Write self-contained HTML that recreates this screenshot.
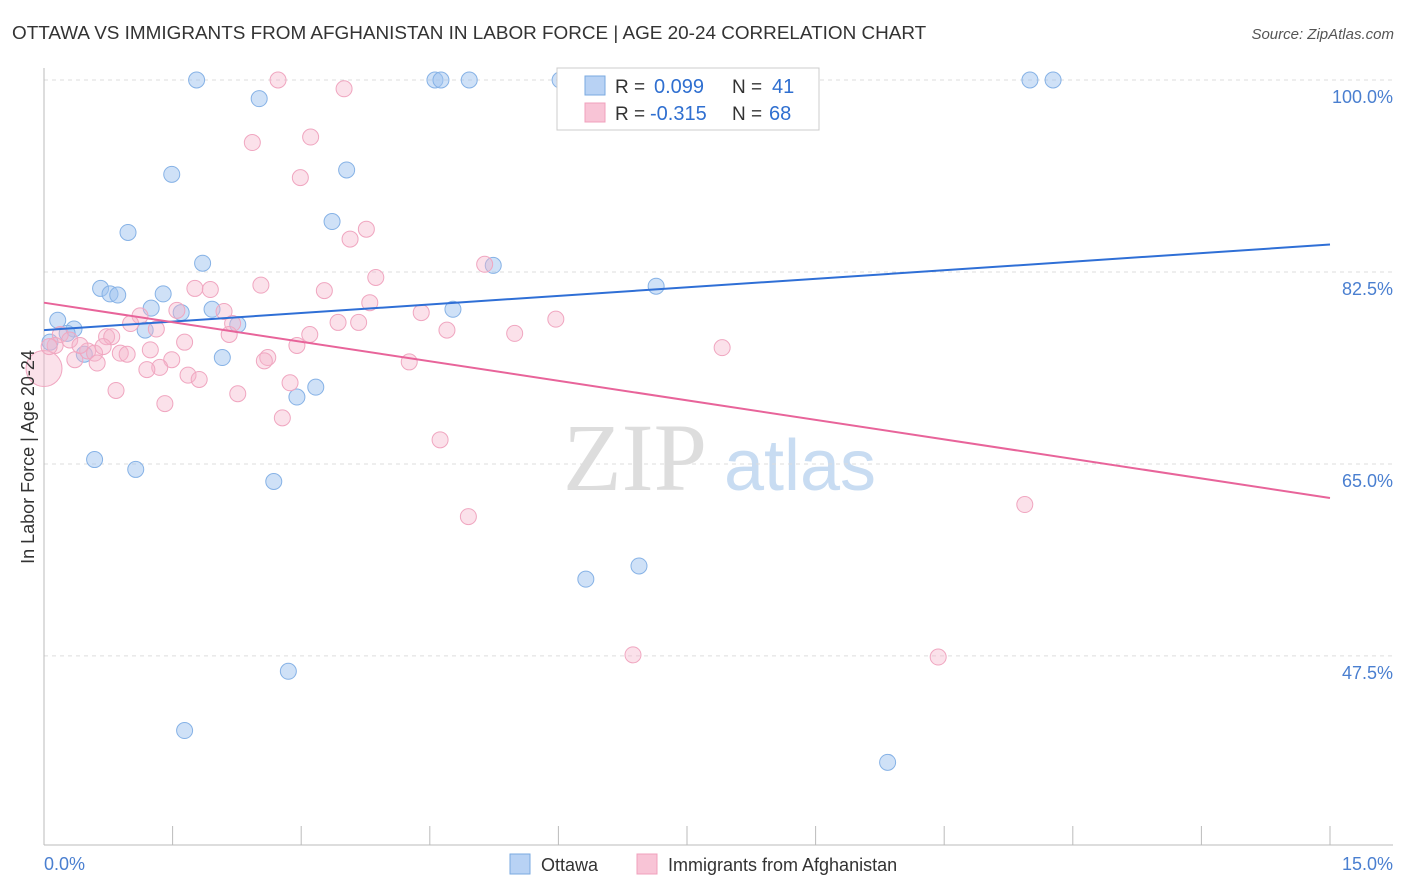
<!DOCTYPE html>
<html><head><meta charset="utf-8">
<style>
body{margin:0;background:#fff;font-family:"Liberation Sans",sans-serif;}
svg{display:block}
</style></head>
<body>
<svg id="chart" width="1406" height="892">
<text x="12" y="39" font-size="18.9" fill="#333">OTTAWA VS IMMIGRANTS FROM AFGHANISTAN IN LABOR FORCE | AGE 20-24 CORRELATION CHART</text>
<text x="1394" y="39" font-size="15" fill="#555" text-anchor="end" font-style="italic">Source: ZipAtlas.com</text>
<g>
<text x="635" y="490" font-size="96" fill="#ddd" text-anchor="middle" font-family="Liberation Serif,serif">ZIP</text>
<text x="800" y="490" font-size="72" fill="#c8dcf2" text-anchor="middle">atlas</text>
</g>
<g id="grid"></g>
<g id="axes"></g>
<g id="marks"></g>
<text transform="translate(34,457) rotate(-90)" font-size="18" fill="#333" text-anchor="middle">In Labor Force | Age 20-24</text>
<text x="44" y="870" font-size="18" fill="#4a7fd0">0.0%</text>
<text x="1393" y="870" font-size="18" fill="#4a7fd0" text-anchor="end">15.0%</text>
<g>
<rect x="557" y="68" width="262" height="62" fill="#fff" stroke="#ccc"/>
<rect x="585" y="76" width="20" height="19" fill="#b8d2f4" stroke="#7aaae0"/>
<rect x="585" y="103" width="20" height="19" fill="#f8c4d6" stroke="#f0a0bc"/>
<text x="615" y="93" font-size="19" fill="#333">R =</text>
<text x="654" y="93" font-size="20" fill="#2f6fd0">0.099</text>
<text x="732" y="93" font-size="19" fill="#333">N =</text>
<text x="772" y="93" font-size="20" fill="#2f6fd0">41</text>
<text x="615" y="120" font-size="19" fill="#333">R =</text>
<text x="650" y="120" font-size="20" fill="#2f6fd0">-0.315</text>
<text x="732" y="120" font-size="19" fill="#333">N =</text>
<text x="769" y="120" font-size="20" fill="#2f6fd0">68</text>
</g>
<g>
<rect x="510" y="854" width="20" height="20" fill="#b8d2f4" stroke="#7aaae0"/>
<text x="541" y="871" font-size="18" fill="#333">Ottawa</text>
<rect x="637" y="854" width="20" height="20" fill="#f8c4d6" stroke="#f0a0bc"/>
<text x="668" y="871" font-size="18" fill="#333">Immigrants from Afghanistan</text>
</g>
</svg>
<script>
const yTicks=[100,82.5,65,47.5];
const yTickLabels=["100.0%","82.5%","65.0%","47.5%"];
const xTicks=[0,1.5,3,4.5,6,7.5,9,10.5,12,13.5,15];
const ottawaX=[1.78,2.51,4.56,4.63,4.96,6.02,11.50,11.77,1.49,3.53,0.98,3.36,1.85,5.24,0.66,0.77,0.86,1.39,1.25,1.60,1.96,4.77,7.14,0.16,0.35,0.27,1.18,2.26,0.07,0.47,2.08,3.17,2.95,0.59,1.07,2.68,6.32,6.94,2.85,1.64,9.84];
const ottawaY=[100,98.3,100,100,100,100,100,100,91.4,91.8,86.1,87.1,83.3,83.1,81.0,80.5,80.4,80.5,79.2,78.8,79.1,79.1,81.2,78.1,77.3,76.9,77.2,77.7,76.1,75.0,74.7,72.0,71.1,65.4,64.5,63.4,54.5,55.7,46.1,40.7,37.8];
const afgX=[2.73,3.50,2.43,3.11,2.99,3.76,3.57,5.14,3.87,2.53,3.27,1.76,1.94,3.80,4.40,1.55,2.10,1.12,1.01,2.20,1.31,3.43,3.67,4.70,5.49,5.97,1.64,2.16,3.10,2.95,0.73,0.79,0.19,0.30,0.13,0.51,0.59,0.89,0.97,1.24,1.49,2.61,2.57,4.26,7.91,0.36,0.62,1.35,1.20,1.68,1.81,2.87,0.84,2.26,1.41,2.78,4.62,4.95,11.44,6.87,10.43,0.0,0.06,0.42,0.69];
const afgY=[100,99.2,94.3,94.8,91.1,86.4,85.5,83.2,82.0,81.3,80.8,81.0,80.9,79.7,78.8,79.0,78.9,78.5,77.8,77.8,77.3,77.9,77.9,77.2,76.9,78.2,76.1,76.8,76.8,75.8,76.6,76.6,76.8,76.3,75.8,75.3,75.1,75.1,75.0,75.4,74.5,74.7,74.4,74.3,75.6,74.5,74.2,73.8,73.6,73.1,72.7,72.4,71.7,71.4,70.5,69.2,67.2,60.2,61.3,47.6,47.4,73.7,75.7,75.8,75.7];
const afgR=[8,8,8,8,8,8,8,8,8,8,8,8,8,8,8,8,8,8,8,8,8,8,8,8,8,8,8,8,8,8,8,8,8,8,8,8,8,8,8,8,8,8,8,8,8,8,8,8,8,8,8,8,8,8,8,8,8,8,8,8,8,18,8,8,8];
const ottawaTrend=[77.2,85.0];
const afgTrend=[79.7,61.9];
const trendX=[0,15];

const NS="http://www.w3.org/2000/svg";
const xs=v=>44+v/15*1286;
const ys=v=>80+(100-v)*10.97;
function mk(tag,attrs,parent){const e=document.createElementNS(NS,tag);for(const k in attrs)e.setAttribute(k,attrs[k]);parent.appendChild(e);return e;}
const grid=document.getElementById('grid'),axes=document.getElementById('axes'),marks=document.getElementById('marks');
yTicks.forEach((t,i)=>{
 const l=mk('line',{x1:44,x2:1393,y1:ys(t),y2:ys(t),stroke:'#ddd','stroke-dasharray':'4,4'},grid);
 
 
 const tx=mk('text',{x:1393,y:ys(t)+23,'font-size':18,fill:'#4a7fd0','text-anchor':'end'},grid);
 tx.textContent=yTickLabels[i];
 
 
});
const xl=mk('line',{x1:44,x2:1393,y1:845,y2:845,stroke:'#bbb'},axes);


const yl=mk('line',{x1:44,x2:44,y1:68,y2:845,stroke:'#bbb'},axes);


xTicks.forEach(t=>{
 const l=mk('line',{x1:xs(t),x2:xs(t),y1:826,y2:845,stroke:'#bbb'},axes);
 
 
});
ottawaX.forEach((v,i)=>{
 const c=mk('circle',{cx:xs(v),cy:ys(ottawaY[i]),r:8,fill:'rgba(160,196,240,0.5)',stroke:'#86b2e6','stroke-width':1},marks);
 
 
});
afgX.forEach((v,i)=>{
 const c=mk('circle',{cx:xs(v),cy:ys(afgY[i]),r:afgR[i],fill:'rgba(246,180,202,0.4)',stroke:'#f0a6c0','stroke-width':1},marks);
 
 
});
const bt=mk('line',{x1:xs(trendX[0]),x2:xs(trendX[1]),y1:ys(ottawaTrend[0]),y2:ys(ottawaTrend[1]),stroke:'#2f6fd6','stroke-width':2},marks);


const pt=mk('line',{x1:xs(trendX[0]),x2:xs(trendX[1]),y1:ys(afgTrend[0]),y2:ys(afgTrend[1]),stroke:'#e8649a','stroke-width':2},marks);


</script>
</body></html>
